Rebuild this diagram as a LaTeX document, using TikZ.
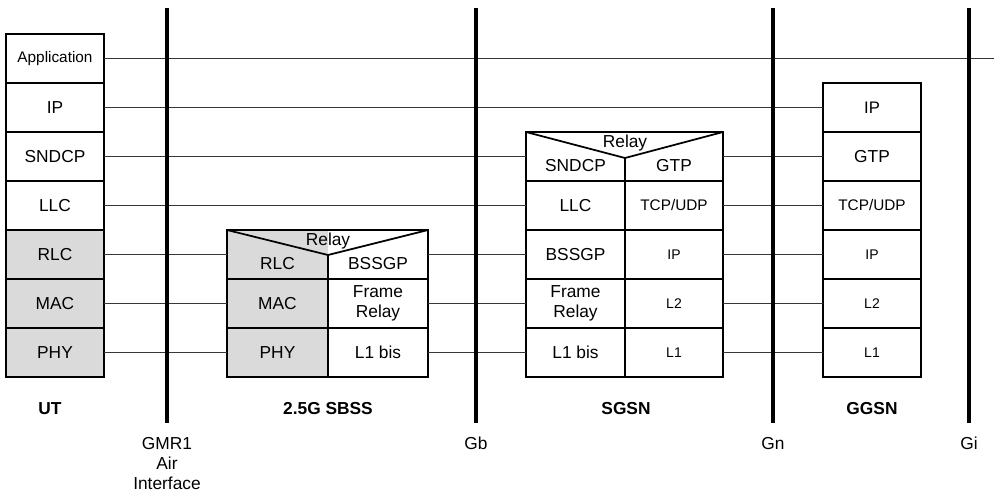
\documentclass[tikz,border=0pt]{standalone}
\usepackage{fontspec}
\setmainfont{Liberation Sans}
\definecolor{cellgray}{RGB}{218,218,218}
\definecolor{linkgray}{RGB}{55,55,55}
\begin{document}
\begin{tikzpicture}[x=0.75pt,y=-0.75pt,
  font=\fontsize{13}{15}\selectfont,
  cell/.style={draw=black,line width=1.3pt,inner sep=0pt,outer sep=0pt,minimum height=36.75pt,anchor=north west,align=center},
  wut/.style={minimum width=73.5pt},
  wl/.style={minimum width=75.75pt},
  wr/.style={minimum width=75pt},
  wsl/.style={minimum width=74.25pt},
  wsr/.style={minimum width=73.5pt},
  shade/.style={fill=cellgray},
  topcell/.style={draw=none},
  frame/.style={draw=black,line width=1.3pt},
  link/.style={draw=linkgray,line width=1pt},
  iface/.style={draw=black,line width=2.4pt},
  ttl/.style={font=\bfseries\fontsize{13}{15}\selectfont,anchor=base,inner sep=0pt},
  ilab/.style={anchor=base,inner sep=0pt},
  sm/.style={font=\fontsize{10.5}{12}\selectfont},
  mid/.style={font=\fontsize{11.5}{13}\selectfont}]
\useasboundingbox (0,0) rectangle (994,493);

% ---------- UT ----------
\node[cell,wut,mid] (ut-app) at (6,34) {Application};
\node[cell,wut] (ut-ip) at (6,83) {IP};
\node[cell,wut] (ut-sndcp) at (6,132) {SNDCP};
\node[cell,wut] (ut-llc) at (6,181) {LLC};
\node[cell,wut,shade] (ut-rlc) at (6,230) {RLC};
\node[cell,wut,shade] (ut-mac) at (6,279) {MAC};
\node[cell,wut,shade] (ut-phy) at (6,328) {PHY};

% ---------- 2.5G SBSS ----------
\node[cell,wl,shade,topcell,label={[yshift=-6.4pt]center:RLC}] (sb-rlc) at (227,230) {};
\node[cell,wr,topcell,label={[yshift=-6.4pt]center:BSSGP}] (sb-bss) at (328,230) {};
\node[cell,wl,shade] (sb-mac) at (227,279) {MAC};
\node[cell,wr] (sb-fr) at (328,279) {Frame\\Relay};
\node[cell,wl,shade] (sb-phy) at (227,328) {PHY};
\node[cell,wr] (sb-l1) at (328,328) {L1 bis};
\coordinate (sb-v) at (328,255);
\draw[frame] (sb-rlc.north west) -- (sb-bss.north east) -- (sb-bss.south east) -- (sb-rlc.south west) -- cycle;
\draw[frame] (sb-rlc.north west) -- (sb-v) -- (sb-bss.north east);
\draw[frame] (sb-v) -- (sb-rlc.south east);
\node (sb-relay) at (328,241.5) {Relay};

% ---------- SGSN ----------
\node[cell,wsl,topcell,label={[yshift=-6.4pt]center:SNDCP}] (sg-sndcp) at (526,132) {};
\node[cell,wsr,topcell,label={[yshift=-6.4pt]center:GTP}] (sg-gtp) at (625,132) {};
\node[cell,wsl] (sg-llc) at (526,181) {LLC};
\node[cell,wsr,mid] (sg-tcp) at (625,181) {TCP/UDP};
\node[cell,wsl] (sg-bssgp) at (526,230) {BSSGP};
\node[cell,wsr,sm] (sg-ip) at (625,230) {IP};
\node[cell,wsl] (sg-fr) at (526,279) {Frame\\Relay};
\node[cell,wsr,sm] (sg-l2) at (625,279) {L2};
\node[cell,wsl] (sg-l1) at (526,328) {L1 bis};
\node[cell,wsr,sm] (sg-l1r) at (625,328) {L1};
\coordinate (sg-v) at (625,158);
\draw[frame] (sg-sndcp.north west) -- (sg-gtp.north east) -- (sg-gtp.south east) -- (sg-sndcp.south west) -- cycle;
\draw[frame] (sg-sndcp.north west) -- (sg-v) -- (sg-gtp.north east);
\draw[frame] (sg-v) -- (sg-sndcp.south east);
\node (sg-relay) at (625,143.5) {Relay};

% ---------- GGSN ----------
\node[cell,wut,font=\fontsize{12.5}{14}\selectfont] (gg-ip) at (823,83) {IP};
\node[cell,wut] (gg-gtp) at (823,132) {GTP};
\node[cell,wut,mid] (gg-tcp) at (823,181) {TCP/UDP};
\node[cell,wut,sm] (gg-ip2) at (823,230) {IP};
\node[cell,wut,sm] (gg-l2) at (823,279) {L2};
\node[cell,wut,sm] (gg-l1) at (823,328) {L1};

% ---------- peer links ----------
\coordinate (app-end) at (994,57);
\draw[link] (ut-app.east) -- (ut-app.east -| app-end);
\draw[link] (ut-ip.east) -- (gg-ip.west);
\draw[link] (ut-sndcp.east) -- (sg-sndcp.west);
\draw[link] (sg-gtp.east) -- (gg-gtp.west);
\draw[link] (ut-llc.east) -- (sg-llc.west);
\draw[link] (sg-tcp.east) -- (gg-tcp.west);
\draw[link] (ut-rlc.east) -- (sb-rlc.west);
\draw[link] (sb-bss.east) -- (sg-bssgp.west);
\draw[link] (sg-ip.east) -- (gg-ip2.west);
\draw[link] (ut-mac.east) -- (sb-mac.west);
\draw[link] (sb-fr.east) -- (sg-fr.west);
\draw[link] (sg-l2.east) -- (gg-l2.west);
\draw[link] (ut-phy.east) -- (sb-phy.west);
\draw[link] (sb-l1.east) -- (sg-l1.west);
\draw[link] (sg-l1r.east) -- (gg-l1.west);

% ---------- interfaces ----------
\coordinate (gmr-top) at (167,8);  \coordinate (gmr-bot) at (167,423);
\coordinate (gb-top) at (476,8);   \coordinate (gb-bot) at (476,423);
\coordinate (gn-top) at (773,8);   \coordinate (gn-bot) at (773,423);
\coordinate (gi-top) at (969,8);   \coordinate (gi-bot) at (969,423);
\draw[iface] (gmr-top) -- (gmr-bot);
\draw[iface] (gb-top) -- (gb-bot);
\draw[iface] (gn-top) -- (gn-bot);
\draw[iface] (gi-top) -- (gi-bot);

\node[anchor=north,inner sep=0pt,align=center] (gmr-lab) at (167,437) {GMR1\\Air\\Interface};
\node[ilab] (gb-lab) at (476,449.5) {Gb};
\node[ilab] (gn-lab) at (773,449.5) {Gn};
\node[ilab] (gi-lab) at (969,449.5) {Gi};

% ---------- entity titles ----------
\node[ttl] (ut-title) at (50,414.5) {UT};
\node[ttl] (sb-title) at (328,414.5) {2.5G SBSS};
\node[ttl] (sg-title) at (626,414.5) {SGSN};
\node[ttl] (gg-title) at (872,414.5) {GGSN};
\end{tikzpicture}
\end{document}
